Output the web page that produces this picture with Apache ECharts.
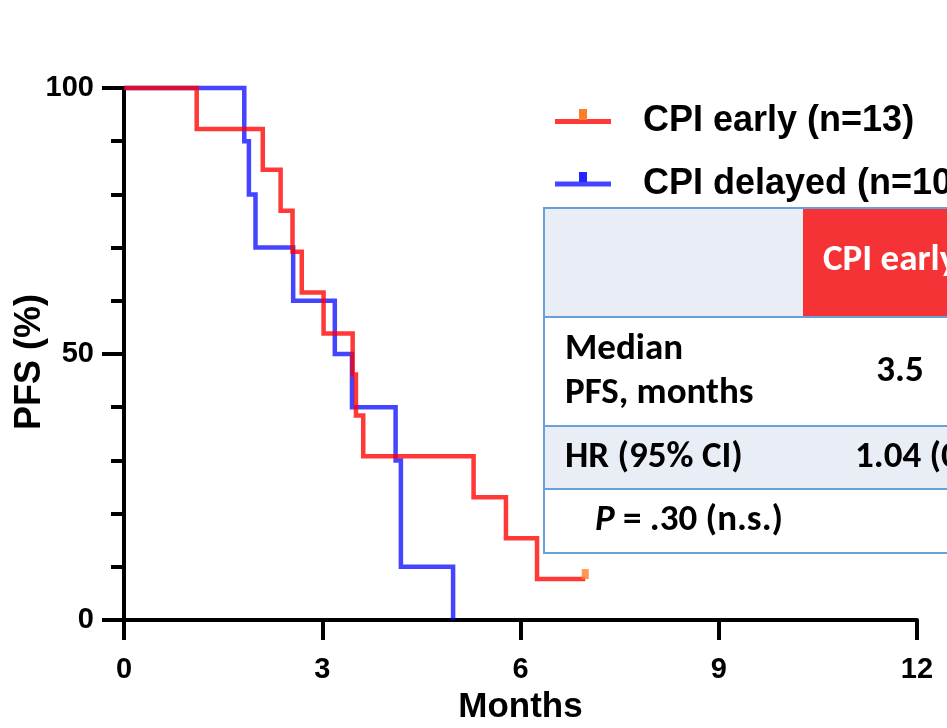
<!DOCTYPE html>
<html>
<head>
<meta charset="utf-8">
<title>PFS by CPI timing</title>
<script src="https://cdn.jsdelivr.net/npm/echarts@6/dist/echarts.min.js"></script>
<style>
  html, body { margin: 0; padding: 0; background: #ffffff; }
  #chart { width: 947px; height: 728px; }
</style>
</head>
<body>
<div id="chart"></div>
<script>
// Kaplan-Meier progression-free survival, step points (months, % progression-free)
const earlyName = 'CPI early (n=13)';
const delayedName = 'CPI delayed (n=10)';

const earlyTime = [0, 1.10, 2.10, 2.37, 2.55, 2.69, 3.02, 3.46, 3.51, 3.62, 5.29, 5.78, 6.25, 6.98];
const earlyPFS  = [100, 92.31, 84.62, 76.92, 69.23, 61.54, 53.85, 46.15, 38.46, 30.77, 23.08, 15.38, 7.69, 7.69];
const earlyCensorTime = [6.98];
const earlyCensorPFS  = [7.69];

const delayedTime = [0, 1.82, 1.89, 1.99, 2.56, 3.19, 3.45, 4.11, 4.19, 4.98];
const delayedPFS  = [100, 90, 80, 70, 60, 50, 40, 30, 10, 0];

const xTicks = [0, 3, 6, 9, 12];
const yTicks = [0, 50, 100];

// summary table content
const tableHeader = ['', 'CPI early'];
const tableRowLabels = [['Median', 'PFS, months'], ['HR (95% CI)']];
const medianPFS = ['3.5'];
const hazardRatio = '1.04 (0.45\u20132.41)';
const pValue = '.30';

const zip = (xs, ys) => xs.map((x, i) => [x, ys[i]]);

const AXIS_FONT = '"Liberation Sans", Arial, Helvetica, sans-serif';
const TABLE_FONT = 'Carlito, Calibri, Lato, sans-serif';
const TABLE_SIZE = 37;

const RED = 'rgba(255, 0, 0, 0.78)';
const BLUE = 'rgba(0, 0, 255, 0.73)';
const BORDER = '#6a9fd8';
const PALE = '#e9edf5';

const chart = echarts.init(document.getElementById('chart'), null, { renderer: 'canvas' });

// table geometry
const tX = 544, tRight = 960;
const rowY = [208, 317, 426, 489, 553];
const redCellX = 803;

const tableGraphics = [
  { type: 'rect', shape: { x: tX, y: rowY[0], width: redCellX - tX, height: rowY[1] - rowY[0] }, style: { fill: PALE } },
  { type: 'rect', shape: { x: redCellX, y: rowY[0], width: tRight - redCellX, height: rowY[1] - rowY[0] }, style: { fill: '#f53236' } },
  { type: 'rect', shape: { x: tX, y: rowY[1], width: tRight - tX, height: rowY[2] - rowY[1] }, style: { fill: '#ffffff' } },
  { type: 'rect', shape: { x: tX, y: rowY[2], width: tRight - tX, height: rowY[3] - rowY[2] }, style: { fill: PALE } },
  { type: 'rect', shape: { x: tX, y: rowY[3], width: tRight - tX, height: rowY[4] - rowY[3] }, style: { fill: '#ffffff' } }
];
rowY.forEach(y => {
  tableGraphics.push({ type: 'line', shape: { x1: tX - 1, y1: y, x2: tRight, y2: y }, style: { stroke: BORDER, lineWidth: 2 } });
});
tableGraphics.push({ type: 'line', shape: { x1: tX, y1: rowY[0] - 1, x2: tX, y2: rowY[4] + 1 }, style: { stroke: BORDER, lineWidth: 2 } });

const tText = (text, x, y, extra) => Object.assign({
  type: 'text',
  style: Object.assign({
    text: text, x: x, y: y,
    fontFamily: TABLE_FONT, fontWeight: 'bold', fontSize: TABLE_SIZE,
    fill: '#000000', textAlign: 'left', textVerticalAlign: 'middle'
  }, extra || {})
});

tableGraphics.push(
  tText(tableHeader[1], 823, 261, { fill: '#ffffff' }),
  tText(tableRowLabels[0].join('\n'), 565, 372, { lineHeight: 44 }),
  tText(medianPFS[0], 900, 372, { textAlign: 'center' }),
  tText(tableRowLabels[1][0], 565, 458),
  tText(hazardRatio, 855, 458),
  {
    type: 'text',
    style: {
      text: '{i|P}{n| = ' + pValue + ' (n.s.)}',
      x: 595, y: 521, textAlign: 'left', textVerticalAlign: 'middle',
      fontFamily: TABLE_FONT, fontWeight: 'bold', fontSize: TABLE_SIZE, fill: '#000000',
      rich: {
        i: { fontFamily: TABLE_FONT, fontWeight: 'bold', fontStyle: 'italic', fontSize: TABLE_SIZE, fill: '#000000' },
        n: { fontFamily: TABLE_FONT, fontWeight: 'bold', fontSize: TABLE_SIZE, fill: '#000000' }
      }
    }
  }
);

// small censor ticks drawn on the legend line samples
const legendTicks = [
  { type: 'rect', shape: { x: 579, y: 109, width: 8, height: 11 }, style: { fill: '#ff7f27' } },
  { type: 'rect', shape: { x: 579, y: 172, width: 8, height: 10 }, style: { fill: '#2424ff' } }
];

const option = {
  backgroundColor: '#ffffff',
  animation: false,
  grid: { left: 124, top: 88, width: 793, height: 532, containLabel: false, outerBoundsMode: 'none' },
  legend: {
    data: [earlyName, delayedName],
    orient: 'vertical',
    left: 555,
    top: 100,
    padding: 0,
    icon: 'rect',
    itemWidth: 56,
    itemHeight: 5,
    itemGap: 19.5,
    selectedMode: false,
    textStyle: {
      fontFamily: AXIS_FONT, fontWeight: 'bold', fontSize: 36, color: '#000000',
      lineHeight: 40, padding: [3, 0, 0, 27]
    }
  },
  xAxis: {
    type: 'value',
    min: xTicks[0],
    max: xTicks[xTicks.length - 1],
    interval: 3,
    name: 'Months',
    nameLocation: 'middle',
    nameGap: 70,
    nameMoveOverlap: false,
    nameTextStyle: { fontFamily: AXIS_FONT, fontWeight: 'bold', fontSize: 35, color: '#000000' },
    axisLine: { show: true, onZero: false, lineStyle: { color: '#000000', width: 4 } },
    axisTick: { show: true, length: 20, lineStyle: { color: '#000000', width: 4 } },
    axisLabel: { margin: 35, fontFamily: AXIS_FONT, fontWeight: 'bold', fontSize: 29, color: '#000000' },
    splitLine: { show: false }
  },
  yAxis: {
    type: 'value',
    min: yTicks[0],
    max: yTicks[yTicks.length - 1],
    interval: 50,
    name: 'PFS (%)',
    nameLocation: 'middle',
    nameGap: 76,
    nameMoveOverlap: false,
    nameTextStyle: { fontFamily: AXIS_FONT, fontWeight: 'bold', fontSize: 36, color: '#000000', padding: [0, 16, 0, 0] },
    axisLine: { show: true, onZero: false, lineStyle: { color: '#000000', width: 4 } },
    axisTick: { show: true, length: 22, lineStyle: { color: '#000000', width: 4 } },
    minorTick: { show: true, splitNumber: 5, length: 13, lineStyle: { color: '#000000', width: 4 } },
    axisLabel: { margin: 30, fontFamily: AXIS_FONT, fontWeight: 'bold', fontSize: 29, color: '#000000' },
    splitLine: { show: false },
    minorSplitLine: { show: false }
  },
  series: [
    {
      name: delayedName,
      type: 'line',
      step: 'end',
      data: zip(delayedTime, delayedPFS),
      showSymbol: false,
      symbol: 'none',
      clip: false,
      color: BLUE,
      lineStyle: { color: BLUE, width: 4.5, cap: 'butt', join: 'miter' },
      z: 3
    },
    {
      name: earlyName,
      type: 'line',
      step: 'end',
      data: zip(earlyTime, earlyPFS),
      showSymbol: false,
      symbol: 'none',
      clip: false,
      color: RED,
      lineStyle: { color: RED, width: 4.5, cap: 'butt', join: 'miter' },
      z: 4
    },
    {
      name: earlyName + ' censored',
      type: 'scatter',
      data: zip(earlyCensorTime, earlyCensorPFS),
      symbol: 'rect',
      symbolSize: [7, 10],
      symbolOffset: [0, -5],
      itemStyle: { color: '#ff7f27' },
      clip: false,
      z: 5
    }
  ],
  graphic: { elements: tableGraphics.concat(legendTicks).map(g => Object.assign({ z: 100 }, g)) }
};

chart.setOption(option);
</script>
</body>
</html>
